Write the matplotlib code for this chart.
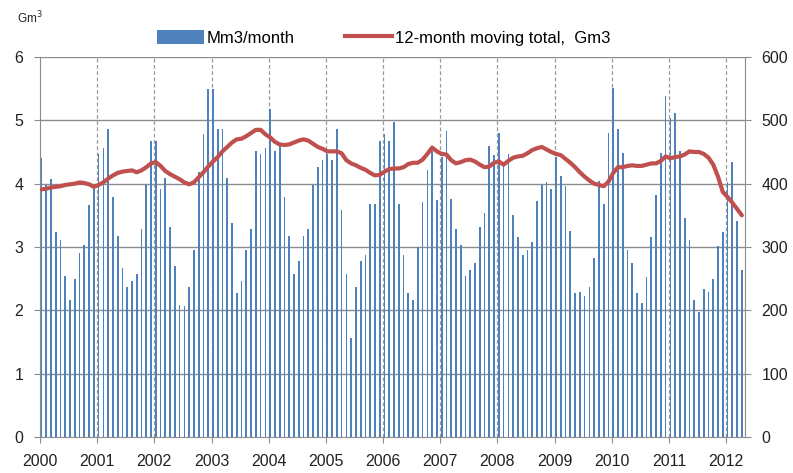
import matplotlib
matplotlib.use("Agg")
import matplotlib.pyplot as plt
import numpy as np
from matplotlib.patches import Patch
from matplotlib.lines import Line2D

plt.rcParams['font.family'] = ['Liberation Sans', 'DejaVu Sans']

# monthly volumes (left axis), Jan 2000 .. Apr 2012
monthly = {
    2000: [4.40, 3.98, 4.07, 3.23, 3.11, 2.55, 2.17, 2.50, 2.91, 3.03, 3.66, 3.97],
    2001: [4.47, 4.57, 4.87, 3.79, 3.18, 2.67, 2.37, 2.47, 2.57, 3.28, 3.98, 4.67],
    2002: [4.67, 3.91, 4.09, 3.31, 2.70, 2.09, 2.07, 2.37, 2.96, 4.19, 4.78, 5.49],
    2003: [5.49, 4.87, 4.87, 4.09, 3.38, 2.27, 2.47, 2.96, 3.28, 4.52, 4.47, 4.57],
    2004: [5.18, 4.52, 4.62, 3.79, 3.18, 2.57, 2.78, 3.18, 3.28, 3.98, 4.27, 4.37],
    2005: [4.47, 4.37, 4.87, 3.58, 2.57, 1.56, 2.37, 2.78, 2.87, 3.68, 3.68, 4.67],
    2006: [4.78, 4.67, 4.98, 3.68, 2.87, 2.27, 2.17, 3.00, 3.71, 4.22, 4.52, 3.74],
    2007: [4.42, 4.83, 3.76, 3.28, 3.03, 2.55, 2.63, 2.75, 3.31, 3.53, 4.60, 4.45],
    2008: [4.80, 4.29, 4.47, 3.51, 3.15, 2.88, 2.96, 3.08, 3.72, 3.98, 4.02, 3.91],
    2009: [4.42, 4.12, 3.97, 3.26, 2.27, 2.29, 2.22, 2.37, 2.83, 4.04, 3.68, 4.80],
    2010: [5.51, 4.87, 4.49, 2.96, 2.75, 2.27, 2.12, 2.52, 3.15, 3.82, 4.49, 5.38],
    2011: [5.03, 5.11, 4.52, 3.46, 3.11, 2.17, 1.98, 2.34, 2.29, 2.50, 3.01, 3.23],
    2012: [4.02, 4.35, 3.41, 2.63],
}

# 12-month moving total (right axis)
moving_total = {
    2000: [391, 392, 394, 395, 396, 398, 399, 400, 402, 401, 399, 395],
    2001: [398, 402, 408, 413, 417, 419, 420, 421, 418, 421, 426, 432],
    2002: [434, 428, 420, 415, 411, 407, 402, 399, 402, 410, 418, 427],
    2003: [435, 442, 451, 458, 465, 470, 471, 475, 480, 485, 485, 478],
    2004: [473, 466, 462, 461, 462, 465, 468, 470, 468, 463, 458, 455],
    2005: [451, 451, 451, 448, 437, 432, 429, 425, 422, 417, 413, 414],
    2006: [419, 423, 424, 424, 426, 431, 433, 433, 438, 447, 457, 451],
    2007: [447, 446, 437, 432, 434, 437, 438, 435, 430, 426, 427, 433],
    2008: [435, 430, 436, 441, 443, 444, 448, 453, 456, 458, 454, 450],
    2009: [447, 445, 439, 433, 426, 418, 411, 405, 400, 398, 396, 403],
    2010: [417, 426, 426, 428, 429, 428, 428, 430, 432, 432, 436, 443],
    2011: [440, 442, 443, 446, 451, 450, 450, 447, 441, 430, 411, 387],
    2012: [379, 370, 360, 350],
}

years = list(range(2000, 2013))

bars = np.concatenate([monthly[y] for y in years])
line = np.concatenate([moving_total[y] for y in years])
x = 2000 + (np.arange(len(bars)) + 0.3) / 12.0

BLUE = '#4F81BD'
RED = '#C0504D'
GRID = '#8c8c8c'

fig = plt.figure(figsize=(7.93, 4.73), dpi=100)
ax = fig.add_axes([40 / 793, 36 / 473, 705 / 793, 380 / 473])
ax2 = ax.twinx()

ax.bar(x, bars, width=0.36 / 12, color=BLUE, zorder=2)
ax2.plot(x, line, color=RED, lw=3.0, solid_capstyle='round', zorder=3)

ax.set_xlim(2000, 2012.33)
ax.set_ylim(0, 6)
ax2.set_ylim(0, 600)
ax.set_yticks(range(0, 7))
ax2.set_yticks(range(0, 601, 100))
ax.set_xticks(years)
ax.set_xticklabels([str(y) for y in years])

ax.set_axisbelow(True)
for v in range(1, 7):
    ax.axhline(v, color=GRID, lw=1.0, zorder=0)
for y in years[1:]:
    ax.axvline(y, color='#999999', lw=0.9, ls=(0, (3, 2)), zorder=1)

for a in (ax, ax2):
    a.spines['top'].set_visible(False)
    for s in ('left', 'right', 'bottom'):
        a.spines[s].set_color(GRID)
    a.tick_params(colors='#222222', labelsize=11.5, length=4, color=GRID)
ax.spines['right'].set_visible(False)
ax2.spines['left'].set_visible(False)
ax2.spines['bottom'].set_visible(False)
ax.tick_params(axis='x', pad=8)
ax.tick_params(axis='y', pad=8)
ax2.tick_params(axis='y', pad=8)

fig.text(17 / 793, 1 - 18 / 473, 'Gm$^3$', fontsize=8.5, color='#222222', va='center')

handles = [Patch(facecolor=BLUE, edgecolor='none'),
           Line2D([], [], color=RED, lw=3.0)]
fig.legend(handles, ['Mm3/month', '12-month moving total,  Gm3'],
           loc='center left', bbox_to_anchor=(142 / 793, 1 - 38 / 473), ncol=2,
           frameon=False, fontsize=12, handlelength=2.8, handleheight=0.9,
           handletextpad=0.2, columnspacing=3.0)

fig.savefig('out.png', dpi=100)
